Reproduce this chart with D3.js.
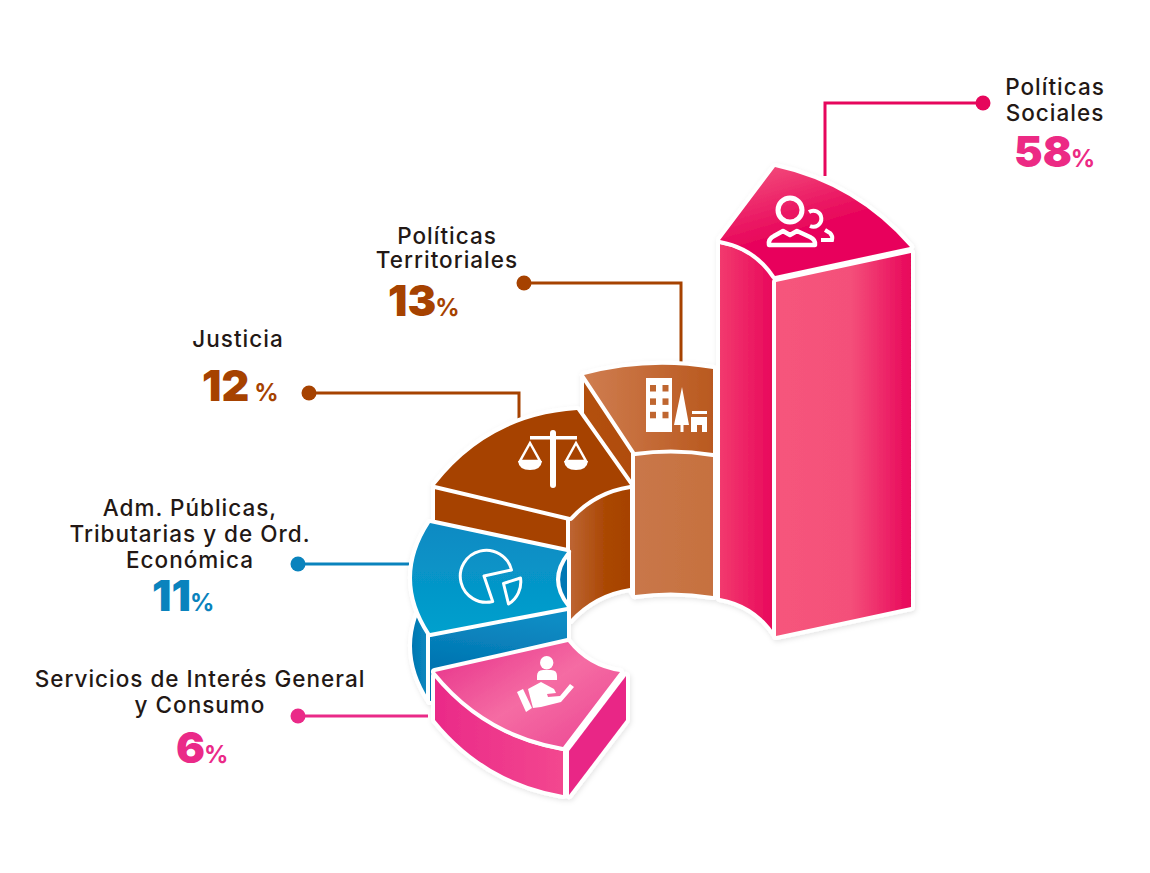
<!DOCTYPE html>
<html><head><meta charset="utf-8">
<script src="https://cdnjs.cloudflare.com/ajax/libs/d3/7.8.5/d3.min.js"></script>
<style>html,body{margin:0;padding:0;background:#fff}svg{display:block}
text{font-family:Inter,"Noto Sans",sans-serif}</style></head><body>
<script>
// ---- data ----
const categories = ["Políticas Sociales","Políticas Territoriales","Justicia","Adm. Públicas, Tributarias y de Ord. Económica","Servicios de Interés General y Consumo"];
const values = [58,13,12,11,6];
const colors = ["#e6065c","#a64200","#a64200","#0a83bd","#ea2a88"];
const numberColors = ["#ec2a84","#a64200","#a64200","#0a83bd","#ea2a88"];
const labelLines = [["Políticas","Sociales"],["Políticas","Territoriales"],["Justicia"],["Adm. Públicas,","Tributarias y de Ord.","Económica"],["Servicios de Interés General","y Consumo"]];

// the illustration's column heights are monotone in the value but not proportional
const heightScale = d3.scaleLinear().domain([6,11,12,13,58]).range([44,68,103,143,354]);

// ---- illustration layout (hand-drawn ring: corners of each slice's top face) ----
const layout = [
 {o0:[775,167],o1:[910,247],i1:[775,276],i0:[720,240],bo:13,bi:-7,
  faces:[["inner",[["0","#f23a6e"],["1","#e8065b"]],[0,0,1,0],[0,4]],["r1",[["0","#f6557b"],["0.55","#f4507a"],["1","#e8065b"]],[0,0,1,0],[1,6]]],
  top:[["0","#f4557f"],["0.62","#e8065b"]],topDir:[0,0,.5,1],
  lead:[[983,103],[825,103],[825,176]],labelX:1055,labelY:[95,121],numX:1014,numY:167,pctDx:-1},
 {o0:[584,375],o1:[713,369],i1:[713,453],i0:[635,452],bo:7,bi:-3,
  faces:[["r0",[["0","#b3500f"],["1","#b04c0c"]],[0,0,1,0],[0,0]],["inner",[["0","#c97749"],["1","#c6713f"]],[0,0,1,0],[0,0]]],
  top:[["0","#cf7d50"],["1","#b9591f"]],topDir:[0,0,1,0],
  lead:[[524,283],[681,283],[681,366]],labelX:447,labelY:[244,268],numX:388,numY:316,pctDx:-1},
 {o0:[435,485],o1:[577,410],i1:[630,485],i0:[570,517],bo:18,bi:-6,
  faces:[["r0",[["0","#a64200"],["1","#a64200"]],[0,0,1,0],[0,0]],["inner",[["0","#bd6533"],["0.6","#aa4703"],["1","#a64200"]],[0,0,1,0],[0,0]]],
  top:[["0","#a64200"],["1","#a64200"]],topDir:[0,0,1,0],
  lead:[[309,393],[519,393],[519,424]],labelX:238,labelY:[347],numX:202,numY:401,pctDx:5},
 {o0:[430,523],o1:[430,633],i1:[567,607],i0:[567,552],bo:-18,bi:11,
  faces:[["outer",[["0","#0076b1"],["1","#0e8cc2"]],[0,0,1,0],[0,0]],["inner",[["0","#0077b4"],["1","#0077b4"]],[0,0,1,0],[0,0]],["r1",[["0","#0c8cc4"],["0.7","#0172af"],["1","#0172af"]],[.2,0,0,1],[0,0]]],
  top:[["0","#0b8ac3"],["1","#02a0cd"]],topDir:[0,0,0,1],
  lead:[[298,564],[409,564]],labelX:190,labelY:[516,542,568],numX:152,numY:611,pctDx:-1},
 {o0:[435,672],o1:[563,747],i1:[620,672],i0:[568,642],bo:-14,bi:6,
  faces:[["outer",[["0","#ea2a88"],["1","#f3478f"]],[0,0,1,0],[0,4]],["r1",[["0","#e92786"],["1","#e92786"]],[0,0,1,0],[6,4]]],
  top:[["0","#e93a8e"],["0.55","#f56ca3"],["1","#ee4f97"]],topDir:[0.1,0.1,.9,.8],
  lead:[[298,716],[428,716]],labelX:200,labelY:[687,713],numX:176,numY:763,pctDx:-1}
];

const svg = d3.select("body").append("svg").attr("width",1150).attr("height",873);
const defs = svg.append("defs");
const f = defs.append("filter").attr("id","soft").attr("x","-10%").attr("y","-10%").attr("width","120%").attr("height","120%");
f.append("feDropShadow").attr("dx",1).attr("dy",2).attr("stdDeviation",2.5).attr("flood-color","#000").attr("flood-opacity",.1);

function gradient(id,stops,dir){
  const g = defs.append("linearGradient").attr("id",id)
    .attr("x1",dir[0]).attr("y1",dir[1]).attr("x2",dir[2]).attr("y2",dir[3]);
  g.selectAll("stop").data(stops).join("stop").attr("offset",d=>d[0]).attr("stop-color",d=>d[1]);
  return `url(#${id})`;
}
function ctrl(p,q,b){
  const dx=q[0]-p[0],dy=q[1]-p[1],L=Math.hypot(dx,dy)||1;
  return [(p[0]+q[0])/2+dy/L*2*b,(p[1]+q[1])/2-dx/L*2*b];
}
function edge(path,p,q,b){ if(b){const c=ctrl(p,q,b);path.quadraticCurveTo(c[0],c[1],q[0],q[1]);} else path.lineTo(q[0],q[1]); }
function topPath(s){
  const p=d3.path();p.moveTo(...s.o0);edge(p,s.o0,s.o1,s.bo);edge(p,s.o1,s.i1,0);edge(p,s.i1,s.i0,s.bi);edge(p,s.i0,s.o0,0);p.closePath();return p.toString();
}
function wallPath(s,kind,H,off){
  const [a0,b0,bulge]= kind==="outer"?[s.o0,s.o1,s.bo]:kind==="inner"?[s.i1,s.i0,s.bi]:kind==="r1"?[s.o1,s.i1,0]:[s.i0,s.o0,0];
  const a=[a0[0]+off[0],a0[1]+off[1]],b=[b0[0]+off[0],b0[1]+off[1]];
  const a2=[a[0],a[1]+H],b2=[b[0],b[1]+H];
  const p=d3.path();p.moveTo(...a);edge(p,a,b,bulge);p.lineTo(...b2);edge(p,b2,a2,-bulge);p.closePath();return p.toString();
}

// leaders (under the ring)
const lineGen = d3.line();
const leaders = svg.append("g");
leaders.selectAll("path").data(layout).join("path").attr("d",d=>lineGen(d.lead))
  .attr("fill","none").attr("stroke",(d,i)=>colors[i]).attr("stroke-width",3);
leaders.selectAll("circle").data(layout).join("circle").attr("cx",d=>d.lead[0][0]).attr("cy",d=>d.lead[0][1]).attr("r",7.5)
  .attr("fill",(d,i)=>colors[i]);

// slices, back to front
const ring = svg.append("g").attr("filter","url(#soft)");
layout.forEach((s,i)=>{
  const H=heightScale(values[i]);
  const g=ring.append("g");
  s.faces.forEach((fc,j)=>{
    g.append("path").attr("d",wallPath(s,fc[0],H,fc[3]))
     .attr("fill",gradient(`w${i}_${j}`,fc[1],fc[2]))
     .attr("stroke","#fff").attr("stroke-width",8).attr("stroke-linejoin","round").attr("paint-order","stroke");
  });
  g.append("path").attr("d",topPath(s))
   .attr("fill",gradient(`t${i}`,s.top,s.topDir))
   .attr("stroke","#fff").attr("stroke-width",8).attr("stroke-linejoin","round").attr("paint-order","stroke");
});

// icons
const ic = svg.append("g").attr("fill","#fff").attr("stroke","none");
// people
const u=ic.append("g");
u.append("circle").attr("cx",790).attr("cy",210).attr("r",12).attr("fill","none").attr("stroke","#fff").attr("stroke-width",5);
u.append("path").attr("d","M769,245 q-1,-6 5,-9 l9,-5 l7,4 l7,-4 l13,6 q6,3 5,8 z").attr("fill","none").attr("stroke","#fff").attr("stroke-width",4.5).attr("stroke-linejoin","round");
u.append("path").attr("d","M809,212 a8,8 0 1 1 1,14").attr("fill","none").attr("stroke","#fff").attr("stroke-width",4);
u.append("path").attr("d","M825,230 l5,3 q3,3 2,7 l-11,0").attr("fill","none").attr("stroke","#fff").attr("stroke-width",4);
// buildings
const b=ic.append("g");
b.append("rect").attr("x",646).attr("y",378).attr("width",26).attr("height",54);
[0,1,2].forEach(r=>[0,1].forEach(c=>b.append("rect").attr("x",650+c*12.5).attr("y",385+r*13.4).attr("width",6).attr("height",6.5).attr("fill","#bf6630")));
b.append("path").attr("d","M682,387 L689,425 L683.5,425 L683.5,432 L680.5,432 L680.5,425 L674,425 Z");
b.append("path").attr("d","M692,411 L707,411 L707,414 L692,414 Z M691,417 L707,417 L707,432 L702,432 L702,425 L697,425 L697,432 L691,432 Z");
// scales
const sc=ic.append("g");
sc.append("rect").attr("x",550).attr("y",430).attr("width",6).attr("height",58).attr("rx",3);
sc.append("rect").attr("x",530).attr("y",436).attr("width",47).attr("height",3.5);
[[530],[576]].forEach(([x])=>{
  sc.append("path").attr("d",`M${x},443 L${x-10},461 L${x+10},461 Z`).attr("fill","none").attr("stroke","#fff").attr("stroke-width",2.5);
  sc.append("path").attr("d",`M${x-12},461 L${x+12},461 Q${x+11},470 ${x},470 Q${x-11},470 ${x-12},461 Z`);
});
// pie
const pi=ic.append("g").attr("fill","none").attr("stroke","#fff").attr("stroke-width",3).attr("stroke-linejoin","round");
pi.append("path").attr("d","M511.5,570 A26,26 0 1 0 492.7,601.5 L484,576 Z");
pi.append("path").attr("d","M503.5,583.5 L520.5,578 A26,26 0 0 1 508.5,604 Z");
// hand
const h=ic.append("g");
h.append("circle").attr("cx",546.7).attr("cy",662.7).attr("r",6.7);
h.append("path").attr("d","M537,680 L537,676 Q537,670 543,670 L551,670 Q557,670 557,676 L557,680 Z");
h.append("path").attr("d","M517,692 L523,689 L532,708 L526,712 Z");
h.append("path").attr("d","M528,689 L541,682 L554,689 L556,693 L547,694 L548,697 L560,696 L570,684 L574,687 L561,702 L541,707 L533,708 Z");

// labels
const lab = svg.append("g");
layout.forEach((s,i)=>{
  labelLines[i].forEach((t,k)=>{
    lab.append("text").attr("x",s.labelX).attr("y",s.labelY[k]).attr("text-anchor","middle")
      .attr("font-size",22.5).attr("font-weight",500).attr("letter-spacing",1).attr("fill","#231815").text(t);
  });
  const tx=lab.append("text").attr("x",s.numX).attr("y",s.numY).attr("fill",numberColors[i]);
  tx.append("tspan").attr("font-size",43).attr("font-weight",900).text(values[i]);
  tx.append("tspan").attr("font-size",24).attr("font-weight",700).attr("dx",s.pctDx).text("%");
});
</script></body></html>
